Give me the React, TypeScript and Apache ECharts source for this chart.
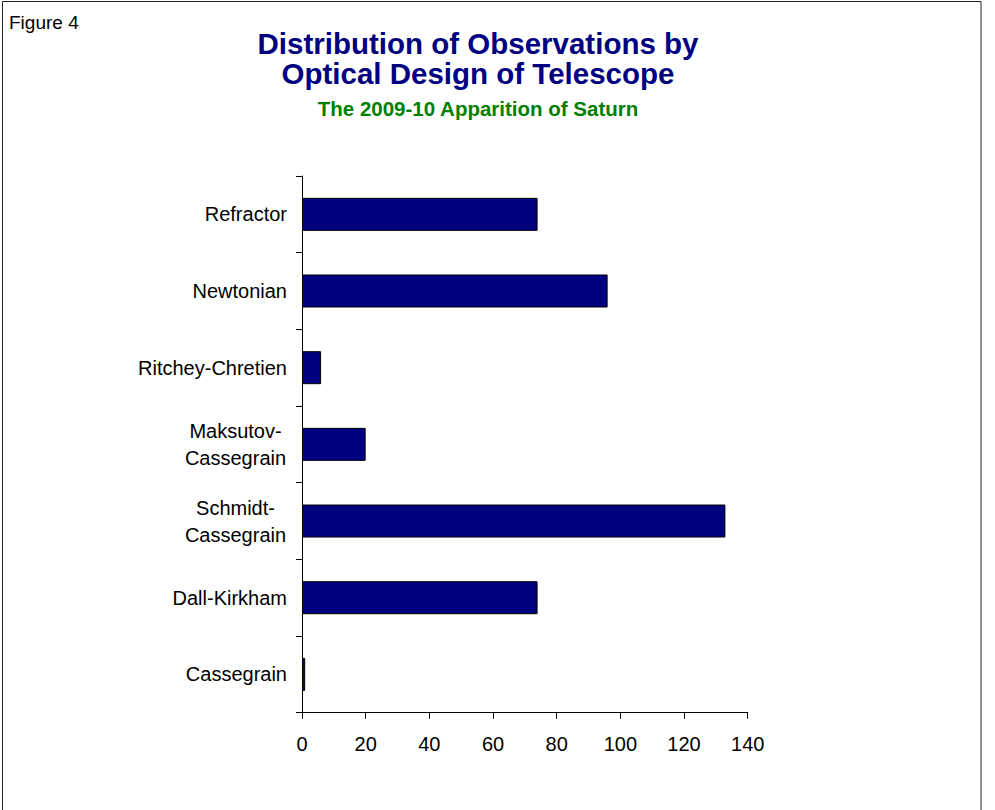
import React, { useEffect, useRef } from "react";
import * as echarts from "echarts";

const categories: string[] = [
  "Refractor",
  "Newtonian",
  "Ritchey-Chretien",
  "Maksutov-\nCassegrain",
  "Schmidt-\nCassegrain",
  "Dall-Kirkham",
  "Cassegrain",
];
const observations: number[] = [74, 96, 6, 20, 133, 74, 1];
const xTicks = { min: 0, max: 140, interval: 20 };

const titleLines = ["Distribution of Observations by", "Optical Design of Telescope"];
const subtitle = "The 2009-10 Apparition of Saturn";
const figureLabel = "Figure 4";

const FONT = 'Arial, "Liberation Sans", sans-serif';

export default function App() {
  const ref = useRef<HTMLDivElement>(null);

  useEffect(() => {
    if (!ref.current) return;
    const chart = echarts.init(ref.current, null, { renderer: "svg" });
    const option: any = {
      animation: false,
      backgroundColor: "#ffffff",
      grid: { left: 302, right: 247.3, top: 176, bottom: 97.3, containLabel: false },
      xAxis: {
        type: "value",
        min: xTicks.min,
        max: xTicks.max,
        interval: xTicks.interval,
        axisLine: { show: true, lineStyle: { color: "#000", width: 1 } },
        axisTick: { show: true, length: 6, lineStyle: { color: "#000" } },
        splitLine: { show: false },
        axisLabel: { color: "#000", fontFamily: FONT, fontSize: 20, margin: 21 },
      },
      yAxis: {
        type: "category",
        data: categories,
        inverse: true,
        axisLine: { show: true, lineStyle: { color: "#000", width: 1 } },
        axisTick: { show: true, length: 6, lineStyle: { color: "#000" } },
        axisLabel: {
          color: "#000",
          fontFamily: FONT,
          fontSize: 20,
          margin: 15,
          formatter: (v: string) => {
            if (v.indexOf("\n") >= 0) {
              return v
                .split("\n")
                .map((s) => "{c|" + s + "}")
                .join("\n");
            }
            return v;
          },
          rich: {
            c: {
              width: 103,
              align: "center",
              fontFamily: FONT,
              fontSize: 20,
              color: "#000",
              lineHeight: 27,
            },
          },
        },
      },
      series: [
        {
          type: "bar",
          data: observations,
          barWidth: 33,
          itemStyle: { color: "#000080", borderColor: "#000", borderWidth: 1 },
        },
      ],
      graphic: [
        {
          type: "rect",
          shape: { x: 2.5, y: 1.5, width: 978.5, height: 812 },
          style: { fill: "none", stroke: "#222", lineWidth: 1 },
          silent: true,
        },
        {
          type: "text",
          x: 9,
          y: 22.5,
          style: {
            text: figureLabel,
            font: `19px ${FONT}`,
            fill: "#000",
            textAlign: "left",
            textVerticalAlign: "middle",
          },
        },
        {
          type: "text",
          x: 478,
          y: 43,
          style: {
            text: titleLines[0],
            font: `bold 29.5px ${FONT}`,
            fill: "#000080",
            textAlign: "center",
            textVerticalAlign: "middle",
          },
        },
        {
          type: "text",
          x: 478,
          y: 73,
          style: {
            text: titleLines[1],
            font: `bold 29.5px ${FONT}`,
            fill: "#000080",
            textAlign: "center",
            textVerticalAlign: "middle",
          },
        },
        {
          type: "text",
          x: 478,
          y: 108,
          style: {
            text: subtitle,
            font: `bold 20.5px ${FONT}`,
            fill: "#008000",
            textAlign: "center",
            textVerticalAlign: "middle",
          },
        },
      ],
    };
    chart.setOption(option);
    return () => chart.dispose();
  }, []);

  return (
    <div
      ref={ref}
      style={{ position: "fixed", left: 0, top: 0, width: 995, height: 810 }}
    />
  );
}
